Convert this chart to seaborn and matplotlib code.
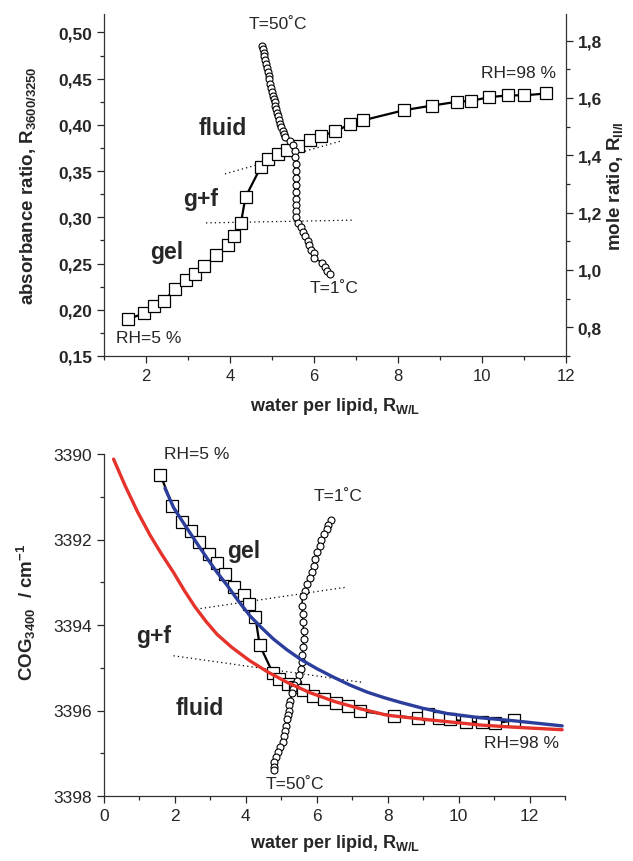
import matplotlib
matplotlib.use("Agg")
import matplotlib.pyplot as plt
import seaborn as sns
from matplotlib.ticker import MultipleLocator, FuncFormatter

# ---------------- data ----------------
# top panel: absorbance ratio vs water per lipid (squares, left axis)
top_rwl = [1.57, 1.95, 2.20, 2.43, 2.69, 2.95, 3.17, 3.39, 3.67, 3.95, 4.09, 4.26, 4.37,
           4.74, 4.91, 5.15, 5.35, 5.63, 5.91, 6.16, 6.51, 6.86, 7.17, 8.15, 8.82, 9.40,
           9.74, 10.17, 10.63, 11.01, 11.52]
top_absorb = [0.190, 0.196, 0.204, 0.210, 0.222, 0.232, 0.239, 0.247, 0.259, 0.270, 0.280,
              0.294, 0.322, 0.355, 0.363, 0.369, 0.373, 0.377, 0.384, 0.388, 0.393, 0.401,
              0.405, 0.416, 0.421, 0.425, 0.426, 0.430, 0.432, 0.432, 0.434]

# top panel: mole ratio vs water per lipid (circles, right axis), T=50 C -> T=1 C
top_circ_rwl = [4.77, 4.79, 4.80, 4.82, 4.84, 4.86, 4.88, 4.90, 4.92, 4.94, 4.96, 4.98, 5.00,
                5.02, 5.04, 5.06, 5.08, 5.10, 5.12, 5.14, 5.16, 5.19, 5.22, 5.25, 5.28, 5.32,
                5.43, 5.51, 5.55, 5.55, 5.56, 5.57, 5.57, 5.58, 5.58, 5.58, 5.57, 5.57, 5.57,
                5.61, 5.68, 5.73, 5.79, 5.85, 5.89, 5.94, 5.99, 6.00, 6.20, 6.26, 6.32, 6.38]
top_circ_mole = [1.782, 1.770, 1.758, 1.745, 1.732, 1.718, 1.705, 1.692, 1.678, 1.665, 1.650,
                 1.636, 1.622, 1.608, 1.596, 1.585, 1.572, 1.560, 1.548, 1.536, 1.522, 1.510,
                 1.498, 1.486, 1.475, 1.463, 1.449, 1.435, 1.414, 1.393, 1.369, 1.345, 1.320,
                 1.296, 1.271, 1.247, 1.226, 1.205, 1.184, 1.163, 1.149, 1.132, 1.118, 1.102,
                 1.087, 1.069, 1.059, 1.041, 1.026, 1.010, 0.998, 0.987]

# top panel phase boundaries (dotted)
top_b1_rwl = [3.88, 6.67]
top_b1_abs = [0.347, 0.383]
top_b2_rwl = [3.43, 6.94]
top_b2_abs = [0.294, 0.297]

# bottom panel: COG3400 vs water per lipid (squares)
bot_rwl = [1.59, 1.93, 2.21, 2.45, 2.69, 2.97, 3.19, 3.42, 3.68, 3.96, 4.10, 4.27, 4.39, 4.76,
           4.93, 5.20, 5.40, 5.61, 5.90, 6.21, 6.55, 6.88, 7.21, 8.17, 8.86, 9.15, 9.46, 9.77,
           10.22, 10.66, 11.03, 11.55]
bot_cog = [3390.48, 3391.22, 3391.58, 3391.81, 3392.06, 3392.34, 3392.56, 3392.81, 3393.12,
           3393.30, 3393.50, 3393.82, 3394.47, 3395.12, 3395.26, 3395.37, 3395.45, 3395.52,
           3395.65, 3395.74, 3395.82, 3395.89, 3396.01, 3396.12, 3396.18, 3396.09, 3396.18,
           3396.21, 3396.26, 3396.28, 3396.30, 3396.23]

# bottom panel: temperature scan (circles), T=1 C -> T=50 C
bot_circ_rwl = [6.40, 6.33, 6.29, 6.19, 6.13, 6.08, 6.01, 5.96, 5.91, 5.87, 5.80, 5.72, 5.66,
                5.60, 5.58, 5.60, 5.61, 5.63, 5.63, 5.62, 5.59, 5.58, 5.55, 5.51, 5.44, 5.37,
                5.32, 5.30, 5.25, 5.22, 5.21, 5.18, 5.16, 5.13, 5.11, 5.09, 5.05, 4.97, 4.92,
                4.86, 4.80, 4.78, 4.79]
bot_circ_cog = [3391.54, 3391.66, 3391.75, 3391.87, 3392.01, 3392.15, 3392.30, 3392.46,
                3392.61, 3392.77, 3392.91, 3393.04, 3393.20, 3393.33, 3393.55, 3393.74,
                3393.94, 3394.13, 3394.33, 3394.51, 3394.70, 3394.87, 3395.03, 3395.16,
                3395.30, 3395.40, 3395.50, 3395.59, 3395.77, 3395.87, 3396.00, 3396.11,
                3396.20, 3396.36, 3396.47, 3396.59, 3396.74, 3396.86, 3396.98, 3397.09,
                3397.21, 3397.33, 3397.40]

# bottom panel: fitted curves
blue_rwl = [1.72, 1.96, 2.20, 2.43, 2.67, 2.90, 3.18, 3.47, 3.80, 4.12, 4.45, 4.78, 5.16,
            5.54, 6.00, 6.47, 6.95, 7.42, 7.90, 8.36, 9.00, 9.67, 10.61, 11.55, 12.92]
blue_cog = [3390.80, 3391.25, 3391.56, 3391.85, 3392.15, 3392.43, 3392.76, 3393.07, 3393.45,
            3393.79, 3394.07, 3394.33, 3394.58, 3394.80, 3395.02, 3395.22, 3395.41, 3395.57,
            3395.70, 3395.81, 3395.95, 3396.07, 3396.17, 3396.24, 3396.36]
red_rwl = [0.27, 0.60, 0.95, 1.30, 1.63, 1.96, 2.27, 2.57, 2.88, 3.19, 3.60, 4.10, 4.60,
           5.16, 5.80, 6.50, 7.23, 7.98, 8.73, 9.67, 10.61, 11.55, 12.92]
red_cog = [3390.12, 3390.75, 3391.36, 3391.90, 3392.35, 3392.77, 3393.20, 3393.58, 3393.92,
           3394.22, 3394.52, 3394.83, 3395.09, 3395.34, 3395.58, 3395.79, 3395.96, 3396.11,
           3396.18, 3396.26, 3396.34, 3396.39, 3396.45]

# bottom panel phase boundaries (dotted)
bot_b1_rwl = [2.60, 6.80]
bot_b1_cog = [3393.63, 3393.12]
bot_b2_rwl = [1.96, 7.27]
bot_b2_cog = [3394.72, 3395.34]

# ---------------- style ----------------
sns.set_style("ticks")
plt.rcParams["font.family"] = ["Liberation Sans", "DejaVu Sans"]
plt.rcParams["mathtext.fontset"] = "custom"
plt.rcParams["mathtext.rm"] = "Liberation Sans:bold"
plt.rcParams["mathtext.it"] = "Liberation Sans:bold"
plt.rcParams["mathtext.bf"] = "Liberation Sans:bold"
plt.rcParams["axes.linewidth"] = 0.9
plt.rcParams["axes.edgecolor"] = "#333333"

fig = plt.figure(figsize=(6.33, 8.62), dpi=100)
W, H = 633.0, 862.0
ax = fig.add_axes([104 / W, 1 - 357 / H, 462 / W, 342 / H])
axb = fig.add_axes([104 / W, 1 - 797 / H, 461 / W, 342 / H])

sq_kw = dict(marker="s", markersize=8.5, markerfacecolor="white", markeredgecolor="black",
             markeredgewidth=0.9, color="black", linewidth=1.6)
ci_kw = dict(marker="o", markersize=5, markerfacecolor="white", markeredgecolor="black",
             markeredgewidth=0.8, color="black", linewidth=1.1)
dot_kw = dict(color="black", linestyle=(0, (1, 2.5)), linewidth=0.9)

LAB = 13.5
XLAB = 13

# ---------------- top panel ----------------
sns.lineplot(x=top_b1_rwl, y=top_b1_abs, ax=ax, estimator=None, sort=False, **dot_kw)
sns.lineplot(x=top_b2_rwl, y=top_b2_abs, ax=ax, estimator=None, sort=False, **dot_kw)
sns.lineplot(x=top_rwl, y=top_absorb, ax=ax, estimator=None, sort=False, **sq_kw)
ax2 = ax.twinx()
sns.lineplot(x=top_circ_rwl, y=top_circ_mole, ax=ax2, estimator=None, sort=False, **ci_kw)

ax.set_xlim(1, 12)
ax.set_ylim(0.15, 0.52)
ax2.set_ylim(0.70, 1.893)
ax.xaxis.set_major_locator(MultipleLocator(2))
ax.xaxis.set_minor_locator(MultipleLocator(1))
ax.yaxis.set_major_locator(MultipleLocator(0.05))
ax.yaxis.set_minor_locator(MultipleLocator(0.025))
ax2.yaxis.set_major_locator(MultipleLocator(0.2))
ax2.yaxis.set_minor_locator(MultipleLocator(0.1))
ax.yaxis.set_major_formatter(FuncFormatter(lambda v, p: f"{v:.2f}".replace(".", ",")))
ax2.yaxis.set_major_formatter(FuncFormatter(lambda v, p: f"{v:.1f}".replace(".", ",")))

for a in (ax, ax2):
    a.spines["top"].set_visible(False)
    a.tick_params(which="major", direction="out", length=5, width=0.9, labelsize=12.5)
    a.tick_params(which="minor", direction="out", length=3, width=0.9)
ax.tick_params(axis="x", labelsize=12)
ax.spines["right"].set_visible(False)
ax2.spines["left"].set_visible(False)
ax2.spines["bottom"].set_visible(False)
for lab in ax.get_yticklabels() + ax2.get_yticklabels():
    lab.set_fontweight("bold")

ax.set_ylabel("absorbance ratio, R$_{3600/3250}$", fontsize=LAB, fontweight="bold")
ax2.set_ylabel("mole ratio, R$_{II/I}$", fontsize=LAB, fontweight="bold")
ax.set_xlabel("water per lipid, R$_{W/L}$", fontsize=XLAB, fontweight="bold")
ax.yaxis.set_label_coords(-0.143, 0.5)
ax2.yaxis.set_label_coords(1.084, 0.5)
ax.xaxis.set_label_coords(0.5, -0.115)

TX = 12.5
RG = 16.5
ax.text(5.14, 0.510, "T=50˚C", fontsize=TX, ha="center", va="center")
ax.text(3.83, 0.397, "fluid", fontsize=RG, fontweight="bold", ha="center", va="center")
ax.text(3.29, 0.320, "g+f", fontsize=RG, fontweight="bold", ha="center", va="center")
ax.text(2.50, 0.263, "gel", fontsize=RG, fontweight="bold", ha="center", va="center")
ax.text(2.07, 0.170, "RH=5 %", fontsize=TX, ha="center", va="center")
ax.text(6.48, 0.224, "T=1˚C", fontsize=TX, ha="center", va="center")
ax.text(10.88, 0.4565, "RH=98 %", fontsize=TX, ha="center", va="center")

# ---------------- bottom panel ----------------
sns.lineplot(x=bot_b1_rwl, y=bot_b1_cog, ax=axb, estimator=None, sort=False, **dot_kw)
sns.lineplot(x=bot_b2_rwl, y=bot_b2_cog, ax=axb, estimator=None, sort=False, **dot_kw)
sns.lineplot(x=bot_rwl, y=bot_cog, ax=axb, estimator=None, sort=False, **sq_kw)
sns.lineplot(x=bot_circ_rwl, y=bot_circ_cog, ax=axb, estimator=None, sort=False, **ci_kw)
sns.lineplot(x=blue_rwl, y=blue_cog, ax=axb, estimator=None, sort=False,
             color="#2c3e9c", linewidth=2.4)
sns.lineplot(x=red_rwl, y=red_cog, ax=axb, estimator=None, sort=False,
             color="#e5322b", linewidth=2.4)

axb.set_xlim(0, 13)
axb.set_ylim(3398, 3390)
axb.xaxis.set_major_locator(MultipleLocator(2))
axb.xaxis.set_minor_locator(MultipleLocator(1))
axb.yaxis.set_major_locator(MultipleLocator(2))
axb.yaxis.set_minor_locator(MultipleLocator(1))
axb.yaxis.set_major_formatter(FuncFormatter(lambda v, p: f"{v:.0f}"))
axb.spines["top"].set_visible(False)
axb.spines["right"].set_visible(False)
axb.tick_params(which="major", direction="out", length=5, width=0.9, labelsize=12.5)
axb.tick_params(which="minor", direction="out", length=3, width=0.9)

axb.set_ylabel("COG$_{3400}$  / cm$^{-1}$", fontsize=LAB, fontweight="bold")
axb.set_xlabel("water per lipid, R$_{W/L}$", fontsize=XLAB, fontweight="bold")
axb.yaxis.set_label_coords(-0.143, 0.54)
axb.xaxis.set_label_coords(0.5, -0.105)

axb.text(2.60, 3390.0, "RH=5 %", fontsize=TX, ha="center", va="center")
axb.text(6.60, 3390.98, "T=1˚C", fontsize=TX, ha="center", va="center")
axb.text(3.95, 3392.25, "gel", fontsize=RG, fontweight="bold", ha="center", va="center")
axb.text(1.39, 3394.25, "g+f", fontsize=RG, fontweight="bold", ha="center", va="center")
axb.text(2.71, 3395.93, "fluid", fontsize=RG, fontweight="bold", ha="center", va="center")
axb.text(11.77, 3396.74, "RH=98 %", fontsize=TX, ha="center", va="center")
axb.text(5.37, 3397.70, "T=50˚C", fontsize=TX, ha="center", va="center")

fig.savefig("out.png", dpi=100)
